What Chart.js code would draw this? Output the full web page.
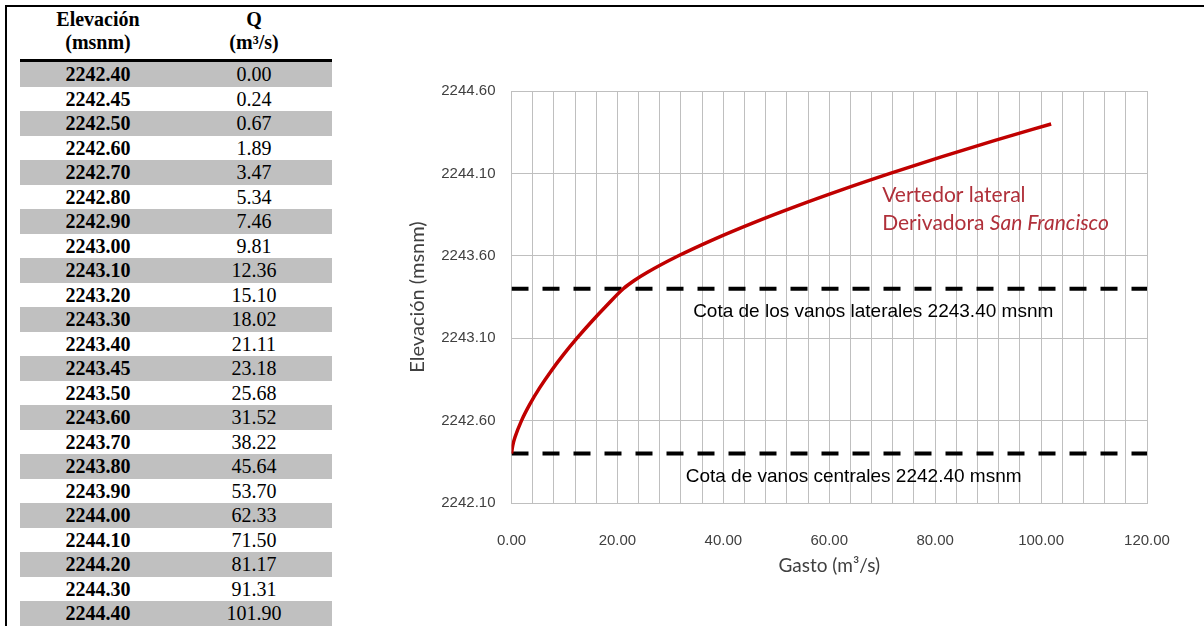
<!DOCTYPE html>
<html>
<head>
<meta charset="utf-8">
<script src="https://cdn.jsdelivr.net/npm/chart.js@4"></script>
<style>
    body { margin: 0; background: #fff; width: 1204px; height: 626px; overflow: hidden; position: relative; }
    .rule-top { position: absolute; left: 5px; top: 5px; width: 1199px; height: 2px; background: #000; }
    .rule-left { position: absolute; left: 5px; top: 5px; width: 2px; height: 621px; background: #000; }
    #tbl { position: absolute; left: 20px; top: 6px; width: 312px; border-collapse: collapse;
           font-family: 'Liberation Serif', 'Times New Roman', serif; font-size: 20px; color: #000; }
    #tbl th { font-weight: bold; line-height: 23px; padding: 2px 0 5px; border-bottom: 3px solid #000; }
    #tbl td { height: 24.5px; padding: 0; line-height: 20px; text-align: center; }
    #tbl td.elev { font-weight: bold; width: 156px; }
    #tbl tr.shade td { background: #c0c0c0; }
    #wrap { position: absolute; left: 404px; top: 0; width: 800px; height: 626px; }
</style>
</head>
<body>
<div class="rule-top"></div>
<div class="rule-left"></div>
<table id="tbl">
    <thead>
        <tr><th>Elevación<br>(msnm)</th><th>Q<br>(m³/s)</th></tr>
    </thead>
    <tbody id="tbody"></tbody>
</table>
<div id="wrap"><canvas id="curveChart"></canvas></div>

<script>
// Data: elevation (msnm) and discharge Q (m3/s)
const elevations = [2242.40, 2242.45, 2242.50, 2242.60, 2242.70, 2242.80, 2242.90, 2243.00,
    2243.10, 2243.20, 2243.30, 2243.40, 2243.45, 2243.50, 2243.60, 2243.70,
    2243.80, 2243.90, 2244.00, 2244.10, 2244.20, 2244.30, 2244.40];
const discharges = [0.00, 0.24, 0.67, 1.89, 3.47, 5.34, 7.46, 9.81,
    12.36, 15.10, 18.02, 21.11, 23.18, 25.68, 31.52, 38.22,
    45.64, 53.70, 62.33, 71.50, 81.17, 91.31, 101.90];

// Reference levels
const lateralLevel = 2243.40;
const centralLevel = 2242.40;
const xRange = [0, 120];

// Table
const tbody = document.getElementById('tbody');
tbody.innerHTML = elevations.map((e, i) => `
    <tr class="${i % 2 === 0 ? 'shade' : ''}">
        <td class="elev">${e.toFixed(2)}</td>
        <td>${discharges[i].toFixed(2)}</td>
    </tr>`).join('');

// Text notes drawn on the plot (in data coordinates)
const noteFont = '19px "Liberation Sans", Arial';
const notes = [
    { x: 68.3, y: 2243.26, text: 'Cota de los vanos laterales 2243.40 msnm' },
    { x: 64.6, y: 2242.26, text: 'Cota de vanos centrales 2242.40 msnm' }
];

const notesPlugin = {
    id: 'notes',
    afterDatasetsDraw(chart) {
        const { ctx, scales: { x, y } } = chart;
        ctx.save();
        ctx.textBaseline = 'middle';
        ctx.font = noteFont;
        ctx.fillStyle = '#000';
        ctx.textAlign = 'center';
        notes.forEach(n => {
            ctx.fillText(n.text, x.getPixelForValue(n.x), y.getPixelForValue(n.y));
        });
        // red series label, second line partly italic
        const lx = x.getPixelForValue(70);
        ctx.textAlign = 'left';
        ctx.fillStyle = '#b0303a';
        ctx.font = '21px Lato, "Open Sans", sans-serif';
        ctx.fillText('Vertedor lateral', lx, y.getPixelForValue(2243.965));
        const y2 = y.getPixelForValue(2243.80);
        ctx.fillText('Derivadora ', lx, y2);
        const w = ctx.measureText('Derivadora ').width;
        ctx.font = 'italic 21px Lato, "Open Sans", sans-serif';
        ctx.fillText('San Francisco', lx + w, y2);
        ctx.restore();
    }
};

const gridColor = '#bfbfbf';
const tickFont = { family: '"Liberation Sans", Arial', size: 15 };

new Chart(document.getElementById('curveChart'), {
    type: 'line',
    data: {
        datasets: [
            {
                label: 'Vertedor lateral',
                data: discharges.map((q, i) => ({ x: q, y: elevations[i] })),
                borderColor: '#c00000',
                borderWidth: 3.5,
                pointRadius: 0,
                cubicInterpolationMode: 'monotone',
                order: 0
            },
            {
                label: 'Cota laterales',
                data: xRange.map(v => ({ x: v, y: lateralLevel })),
                borderColor: '#000',
                borderWidth: 4,
                borderDash: [17, 14],
                pointRadius: 0,
                order: 1
            },
            {
                label: 'Cota centrales',
                data: xRange.map(v => ({ x: v, y: centralLevel })),
                borderColor: '#000',
                borderWidth: 4,
                borderDash: [17, 14],
                pointRadius: 0,
                order: 1
            }
        ]
    },
    options: {
        responsive: true,
        maintainAspectRatio: false,
        animation: false,
        layout: { padding: { top: 91, right: 57, bottom: 46, left: 0 } },
        plugins: { legend: { display: false }, tooltip: { enabled: false } },
        scales: {
            x: {
                type: 'linear',
                min: 0,
                max: 120,
                afterFit: s => { s.height = 77; },
                border: { color: gridColor },
                grid: { color: gridColor, drawTicks: false },
                ticks: {
                    stepSize: 4,
                    autoSkip: false,
                    maxRotation: 0,
                    padding: 29,
                    color: '#404040',
                    font: tickFont,
                    callback: v => (v % 20 === 0 ? v.toFixed(2) : '')
                },
                title: { display: true, text: 'Gasto (m³/s)', color: '#404040',
                         font: { family: 'Lato, "Open Sans", sans-serif', size: 19 }, padding: { top: 0, bottom: 3 } }
            },
            y: {
                type: 'linear',
                min: 2242.1,
                max: 2244.6,
                afterFit: s => { s.width = 107.5; },
                border: { color: gridColor },
                grid: { color: gridColor, drawTicks: false },
                ticks: {
                    stepSize: 0.5,
                    padding: 16,
                    color: '#404040',
                    font: tickFont,
                    callback: v => v.toFixed(2)
                },
                title: { display: true, text: 'Elevación (msnm)', color: '#404040',
                         font: { family: 'Lato, "Open Sans", sans-serif', size: 20 }, padding: { top: 2, bottom: 0 } }
            }
        }
    },
    plugins: [notesPlugin]
});
</script>
</body>
</html>
